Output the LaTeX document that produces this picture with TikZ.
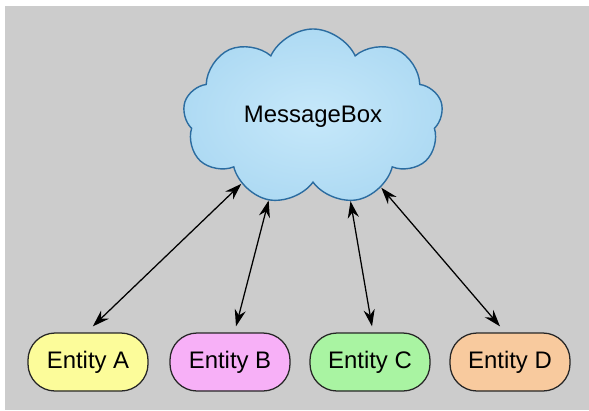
\documentclass[tikz,border=0pt]{standalone}
\usepackage{fontspec}
\setmainfont{Liberation Sans}
\usepackage{tikz}
\usetikzlibrary{positioning,arrows.meta,shapes.symbols}

\definecolor{bggray}{HTML}{CCCCCC}
\definecolor{cloudin}{HTML}{C6E8FA}
\definecolor{cloudout}{HTML}{AEDAF3}
\definecolor{cloudedge}{HTML}{2B6CA0}
\definecolor{entA}{HTML}{FCFC9A}
\definecolor{entB}{HTML}{F7B0F7}
\definecolor{entC}{HTML}{A9F4A2}
\definecolor{entD}{HTML}{F8CA9E}

\begin{document}
\begin{tikzpicture}[
  x=0.025cm, y=-0.025cm,
  ent/.style={draw=black!85, line width=0.9pt, rounded corners=0.68cm, minimum width=3cm, minimum height=1.45cm, font=\fontsize{17}{20}\selectfont},
  arr/.style={{Stealth[length=4.2mm,width=2.8mm]}-{Stealth[length=4.2mm,width=2.8mm]}, line width=0.9pt}
]
  \useasboundingbox (0,0) rectangle (589,410);
  \fill[bggray] (5,6) rectangle (589,410);
  % the shared message box
  \node[cloud, cloud puffs=9, cloud puff arc=130, aspect=1.6, draw=cloudedge, line width=1pt,
        inner color=cloudin, outer color=cloudout,
        minimum width=6.5cm, minimum height=4.4cm, font=\fontsize{17}{20}\selectfont] (mb) at (313,117) {MessageBox};
  % entities
  \node[ent, fill=entA] (ea) at (88,362) {Entity A};
  \node[ent, fill=entB] (eb) at (230,362) {Entity B};
  \node[ent, fill=entC] (ec) at (370,362) {Entity C};
  \node[ent, fill=entD] (ed) at (510,362) {Entity D};
  \draw[arr] ([xshift=0.12cm,yshift=0.15cm]ea.north) -- (mb.223);
  \draw[arr] ([xshift=0.15cm,yshift=0.15cm]eb.north) -- (mb.242);
  \draw[arr] ([xshift=0.05cm,yshift=0.15cm]ec.north) -- (mb.294);
  \draw[arr] ([xshift=-0.25cm,yshift=0.15cm]ed.north) -- (mb.314);
\end{tikzpicture}
\end{document}
